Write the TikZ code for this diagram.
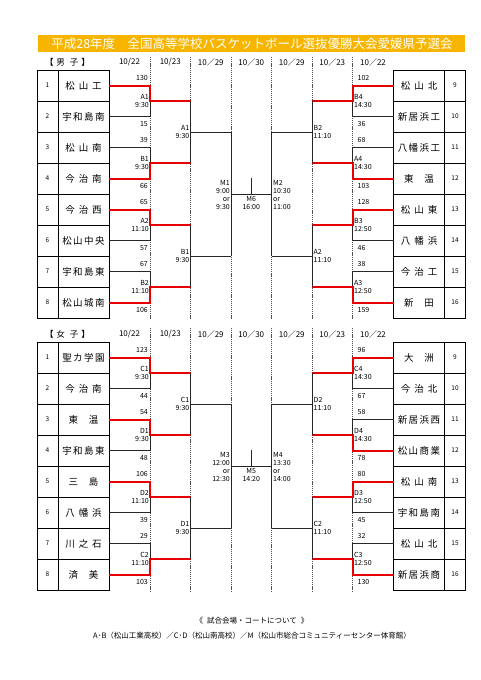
\documentclass[tikz,border=0pt]{standalone}
\usepackage{fontspec}
\setmainfont{Noto Sans CJK JP}
\usetikzlibrary{calc}
\definecolor{titlebg}{RGB}{247,181,0}
\definecolor{winred}{RGB}{232,0,0}
\definecolor{dashgray}{RGB}{80,80,80}
\tikzset{
  cellbox/.style={draw=black, line width=0.9pt, inner sep=0pt, outer sep=0pt, minimum height=31pt},
  namecell/.style={cellbox, minimum width=51pt, font=\fontsize{9.5}{10}\selectfont},
  numcell/.style={cellbox, minimum width=21pt, font=\fontsize{6.5}{7}\selectfont},
  brk/.style={line width=0.7pt, draw=black!85},
  win/.style={line width=2pt, draw=winred},
  score/.style={font=\fontsize{7}{8}\selectfont, inner sep=0pt},
  lbl/.style={font=\fontsize{7}{8}\selectfont, inner sep=0pt},
  daycol/.style={font=\fontsize{8}{9}\selectfont, inner sep=0pt},
  sepline/.style={dashgray, line width=0.6pt, dash pattern=on 1.2pt off 0.9pt},
}
\newcommand\gapA{\hspace{1.5pt}}
\newcommand\gapB{\hspace{4pt}}
\newcommand\gapC{\hspace{11pt}}
\newcommand\teamL[4]{\node[numcell] (#1n) at (47.5,#2) {#3}; \node[namecell] (#1) at (83.5,#2) {#4};}
\newcommand\teamR[4]{\node[namecell] (#1) at (419,#2) {#4}; \node[numcell] (#1n) at (455,#2) {#3};}
\newcommand\firstL[8]{%
  \coordinate (#8) at ($(#1.east)!0.5!(#2.east)+(41,0)$);
  \coordinate (#8o) at ($(#8)+(40.5,0)$);
  \draw[brk] (#1.east) -| (#8) (#2.east) -| (#8);
  \ifnum#3=1 \draw[win] (#1.east) -| (#8) -- (#8o); \else \draw[win] (#2.east) -| (#8) -- (#8o); \fi
  \node[score,anchor=east] (#8sa) at ($(#1.east)+(39,-7.5)$) {#4};
  \node[score,anchor=east] (#8sb) at ($(#2.east)+(39,7.5)$) {#5};
  \node[lbl,anchor=east,align=right] (#8l) at ($(#8)+(-1,0)$) {#6\\#7};
}
\newcommand\firstR[8]{%
  \coordinate (#8) at ($(#1.west)!0.5!(#2.west)+(-41,0)$);
  \coordinate (#8o) at ($(#8)+(-40.5,0)$);
  \draw[brk] (#1.west) -| (#8) (#2.west) -| (#8);
  \ifnum#3=1 \draw[win] (#1.west) -| (#8) -- (#8o); \else \draw[win] (#2.west) -| (#8) -- (#8o); \fi
  \node[score,anchor=west] (#8sa) at ($(#1.west)+(-36,-7.5)$) {#4};
  \node[score,anchor=west] (#8sb) at ($(#2.west)+(-36,7.5)$) {#5};
  \node[lbl,anchor=west,align=left] (#8l) at ($(#8)+(1.5,0)$) {#6\\#7};
}
\newcommand\secondL[5]{%
  \draw[brk] (#1o) -- (#2o);
  \coordinate (#5i) at ($(#1o)!0.5!(#2o)$);
  \coordinate (#5) at ($(#5i)+(40.5,0)$);
  \draw[brk] (#5i) -- (#5);
  \node[lbl,anchor=east,align=right] (#5l) at ($(#5i)+(-1,0)$) {#3\\#4};
}
\newcommand\secondR[5]{%
  \draw[brk] (#1o) -- (#2o);
  \coordinate (#5i) at ($(#1o)!0.5!(#2o)$);
  \coordinate (#5) at ($(#5i)+(-40.5,0)$);
  \draw[brk] (#5i) -- (#5);
  \node[lbl,anchor=west,align=left] (#5l) at ($(#5i)+(1.5,0)$) {#3\\#4};
}
\newcommand\semiL[4]{%
  \draw[brk] (#1) -- (#2);
  \coordinate (#3) at ($(#1)!0.5!(#2)$);
  \node[lbl,anchor=east,align=right] (#3l) at ($(#3)+(-1,0.5)$) {#4};
}
\newcommand\semiR[4]{%
  \draw[brk] (#1) -- (#2);
  \coordinate (#3) at ($(#1)!0.5!(#2)$);
  \node[lbl,anchor=west,align=left] (#3l) at ($(#3)+(1.5,0.5)$) {#4};
}
\newcommand\finalm[4]{%
  \draw[brk] (#1) -- (#2);
  \coordinate (#3) at ($(#1)!0.5!(#2)$);
  \coordinate (#3t) at ($(#3)+(0,-16)$);
  \draw[brk] (#3) -- (#3t);
  \node[lbl,anchor=north,align=center] (#3l) at ($(#3)+(0,2.5)$) {#4};
}
\newcommand\headrow[3]{% prefix, y, label
  \node[font=\fontsize{8.5}{9}\selectfont, inner sep=0pt] (#1h) at (67.5,#2) {#3};
  \node[daycol] (#1d1) at (129.5,#2) {10/22};
  \node[daycol] (#1d2) at (170.25,#2) {10/23};
  \node[daycol] (#1d3) at (210.75,#2) {10／29};
  \node[daycol] (#1d4) at (251.25,#2) {10／30};
  \node[daycol] (#1d5) at (291.75,#2) {10／29};
  \node[daycol] (#1d6) at (332.25,#2) {10／23};
  \node[daycol] (#1d7) at (373,#2) {10／22};
}
\begin{document}
\begin{tikzpicture}[x=1pt,y=-1pt]
\fill[white] (0,0) rectangle (481,680);
\useasboundingbox (0,0) rectangle (481,680);
% title
\node[fill=titlebg, minimum width=427pt, minimum height=17pt, inner sep=0pt] (title) at (251.5,43.5) {};
\node[text=white, font=\fontsize{12.5}{13}\selectfont, inner sep=0pt] (titletext) at (252,43.5) {平成28年度　全国高等学校バスケットボール選抜優勝大会愛媛県予選会};
% headers
\headrow{m}{62}{【\hspace{3pt}男\hspace{5pt}子\hspace{3pt}】}
\headrow{f}{334}{【\hspace{3pt}女\hspace{5pt}子\hspace{3pt}】}
% dotted column separators
\foreach \x in {150,190.5,231,271.5,312,352.5} {
  \draw[sepline] (\x,57) -- (\x,319);
  \draw[sepline] (\x,328) -- (\x,591);
}
% ===== male teams =====
\teamL{mt1}{85.5}{1}{松\gapB 山\gapB 工}
\teamL{mt2}{116.5}{2}{宇\gapA 和\gapA 島\gapA 南}
\teamL{mt3}{147.5}{3}{松\gapB 山\gapB 南}
\teamL{mt4}{178.5}{4}{今\gapB 治\gapB 南}
\teamL{mt5}{209.5}{5}{今\gapB 治\gapB 西}
\teamL{mt6}{240.5}{6}{松\gapA 山\gapA 中\gapA 央}
\teamL{mt7}{271.5}{7}{宇\gapA 和\gapA 島\gapA 東}
\teamL{mt8}{302.5}{8}{松\gapA 山\gapA 城\gapA 南}
\teamR{mt9}{85.5}{9}{松\gapB 山\gapB 北}
\teamR{mt10}{116.5}{10}{新\gapA 居\gapA 浜\gapA 工}
\teamR{mt11}{147.5}{11}{八\gapA 幡\gapA 浜\gapA 工}
\teamR{mt12}{178.5}{12}{東\gapC 温}
\teamR{mt13}{209.5}{13}{松\gapB 山\gapB 東}
\teamR{mt14}{240.5}{14}{八\gapB 幡\gapB 浜}
\teamR{mt15}{271.5}{15}{今\gapB 治\gapB 工}
\teamR{mt16}{302.5}{16}{新\gapC 田}
% male bracket
\firstL{mt1}{mt2}{1}{130}{15}{A1}{9:30}{mA}
\firstL{mt3}{mt4}{2}{39}{66}{B1}{9:30}{mB}
\firstL{mt5}{mt6}{1}{65}{57}{A2}{11:10}{mC}
\firstL{mt7}{mt8}{2}{67}{106}{B2}{11:10}{mD}
\secondL{mA}{mB}{A1}{9:30}{mq1}
\secondL{mC}{mD}{B1}{9:30}{mq2}
\firstR{mt9}{mt10}{1}{102}{36}{B4}{14:30}{mE}
\firstR{mt11}{mt12}{2}{68}{103}{A4}{14:30}{mF}
\firstR{mt13}{mt14}{1}{128}{46}{B3}{12:50}{mG}
\firstR{mt15}{mt16}{2}{38}{159}{A3}{12:50}{mH}
\secondR{mE}{mF}{B2}{11:10}{mq3}
\secondR{mG}{mH}{A2}{11:10}{mq4}
\semiL{mq1}{mq2}{msL}{M1\\9:00\\or\\9:30}
\semiR{mq3}{mq4}{msR}{M2\\10:30\\or\\11:00}
\finalm{msL}{msR}{mfin}{M6\\16:00}
% ===== female teams =====
\teamL{ft1}{357.5}{1}{聖\gapA カ\gapA 学\gapA 園}
\teamL{ft2}{388.5}{2}{今\gapB 治\gapB 南}
\teamL{ft3}{419.5}{3}{東\gapC 温}
\teamL{ft4}{450.5}{4}{宇\gapA 和\gapA 島\gapA 東}
\teamL{ft5}{481.5}{5}{三\gapC 島}
\teamL{ft6}{512.5}{6}{八\gapB 幡\gapB 浜}
\teamL{ft7}{543.5}{7}{川\gapB 之\gapB 石}
\teamL{ft8}{574.5}{8}{済\gapC 美}
\teamR{ft9}{357.5}{9}{大\gapC 洲}
\teamR{ft10}{388.5}{10}{今\gapB 治\gapB 北}
\teamR{ft11}{419.5}{11}{新\gapA 居\gapA 浜\gapA 西}
\teamR{ft12}{450.5}{12}{松\gapA 山\gapA 商\gapA 業}
\teamR{ft13}{481.5}{13}{松\gapB 山\gapB 南}
\teamR{ft14}{512.5}{14}{宇\gapA 和\gapA 島\gapA 南}
\teamR{ft15}{543.5}{15}{松\gapB 山\gapB 北}
\teamR{ft16}{574.5}{16}{新\gapA 居\gapA 浜\gapA 商}
% female bracket
\firstL{ft1}{ft2}{1}{123}{44}{C1}{9:30}{fA}
\firstL{ft3}{ft4}{1}{54}{48}{D1}{9:30}{fB}
\firstL{ft5}{ft6}{1}{106}{39}{D2}{11:10}{fC}
\firstL{ft7}{ft8}{2}{29}{103}{C2}{11:10}{fD}
\secondL{fA}{fB}{C1}{9:30}{fq1}
\secondL{fC}{fD}{D1}{9:30}{fq2}
\firstR{ft9}{ft10}{1}{96}{67}{C4}{14:30}{fE}
\firstR{ft11}{ft12}{2}{58}{78}{D4}{14:30}{fF}
\firstR{ft13}{ft14}{1}{80}{45}{D3}{12:50}{fG}
\firstR{ft15}{ft16}{2}{32}{130}{C3}{12:50}{fH}
\secondR{fE}{fF}{D2}{11:10}{fq3}
\secondR{fG}{fH}{C2}{11:10}{fq4}
\semiL{fq1}{fq2}{fsL}{M3\\12:00\\or\\12:30}
\semiR{fq3}{fq4}{fsR}{M4\\13:30\\or\\14:00}
\finalm{fsL}{fsR}{ffin}{M5\\14:20}
% footer
\node[font=\fontsize{7.5}{8}\selectfont, inner sep=0pt] (note1) at (252,621) {《\hspace{4pt}試合会場・コートについて\hspace{4pt}》};
\node[font=\fontsize{7.5}{8}\selectfont, inner sep=0pt] (note2) at (252,636) {A･B（松山工業高校）／C･D（松山南高校）／M（松山市総合コミュニティーセンター体育館）};
\end{tikzpicture}
\end{document}
